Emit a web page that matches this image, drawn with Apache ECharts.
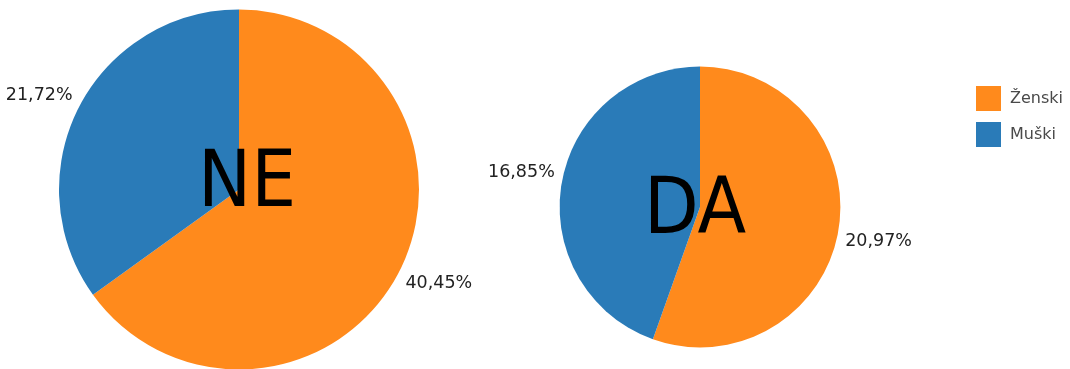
<!DOCTYPE html>
<html>
<head>
<meta charset="utf-8">
<title>Spol ispitanika</title>
<script src="https://cdn.jsdelivr.net/npm/echarts@6/dist/echarts.min.js"></script>
<style>
  html, body { margin: 0; padding: 0; background: #ffffff; }
  #chart { width: 1070px; height: 369px; }
</style>
</head>
<body>
<div id="chart"></div>
<script>
// Answer groups, one pie each
const groups = ['NE', 'DA'];
// Gender categories (slice order, clockwise from 12 o'clock)
const categories = ['Ženski', 'Muški'];
// Share of all respondents, in percent
const valuesNE = [40.45, 21.72];
const valuesDA = [20.97, 16.85];

const colors = ['#FF8A1C', '#2A7BB8'];
const groupValues = [valuesNE, valuesDA];
const totals = groupValues.map(v => v.reduce((a, b) => a + b, 0));
const maxTotal = Math.max.apply(null, totals);

// Pie area is proportional to the group's total
const maxRadius = 180;
const radii = totals.map(t => maxRadius * Math.sqrt(t / maxTotal));
const centers = [[239, 189.5], [700, 207]];

const fmt = v => v.toFixed(2).replace('.', ',') + '%';

// Mid-angle of a slice, clockwise from the top, in radians
function midAngle(seriesIndex, dataIndex) {
  const vals = groupValues[seriesIndex];
  let before = 0;
  for (let i = 0; i < dataIndex; i++) before += vals[i];
  const frac = (before + vals[dataIndex] / 2) / totals[seriesIndex];
  return frac * Math.PI * 2;
}

const series = groups.map((g, si) => ({
  type: 'pie',
  name: g,
  center: centers[si],
  radius: [0, radii[si]],
  startAngle: 90,
  clockwise: true,
  avoidLabelOverlap: false,
  animation: false,
  silent: true,
  data: categories.map((c, i) => ({
    name: c,
    value: groupValues[si][i],
    itemStyle: { color: colors[i] }
  })),
  label: {
    show: true,
    position: 'outside',
    formatter: p => fmt(p.value),
    color: '#222222',
    fontFamily: 'DejaVu Sans',
    fontSize: 17.5,
    distanceToLabelLine: 0
  },
  labelLine: { show: false, length: 7, length2: 0 },
  labelLayout: function (params) {
    const a = midAngle(params.seriesIndex, params.dataIndex);
    return { verticalAlign: Math.cos(a) < 0 ? 'top' : 'bottom' };
  },
  emphasis: { disabled: true }
}));

// Large group names drawn over the pies
const groupTextPos = [[247, 185], [695, 212]];
const graphics = groups.map((g, i) => ({
  type: 'text',
  x: groupTextPos[i][0],
  y: groupTextPos[i][1],
  scaleX: 0.9,
  silent: true,
  z: 100,
  style: {
    text: g,
    fill: '#000000',
    font: '79px "DejaVu Sans"',
    align: 'center',
    verticalAlign: 'middle'
  }
}));

const chart = echarts.init(document.getElementById('chart'), null, { renderer: 'canvas' });
chart.setOption({
  backgroundColor: '#ffffff',
  animation: false,
  legend: {
    orient: 'vertical',
    left: 976,
    top: 86,
    padding: 0,
    itemWidth: 25,
    itemHeight: 25,
    itemGap: 11,
    icon: 'rect',
    selectedMode: false,
    data: categories,
    textStyle: {
      color: '#4a4a4a',
      fontFamily: 'DejaVu Sans',
      fontSize: 16,
      padding: [0, 0, 0, 4]
    }
  },
  series: series,
  graphic: graphics
});
</script>
</body>
</html>
